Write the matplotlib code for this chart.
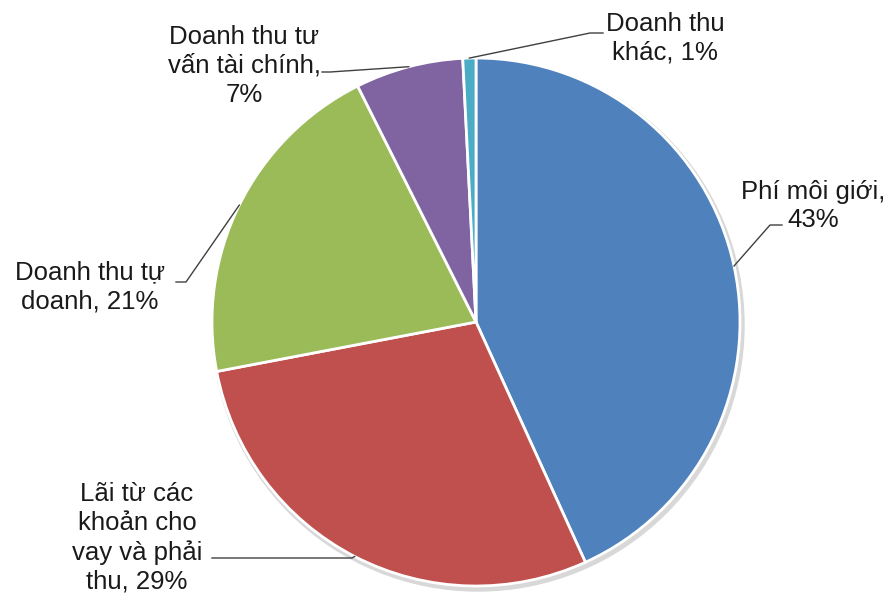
import numpy as np
import matplotlib
matplotlib.use('Agg')
import matplotlib.pyplot as plt

# revenue structure, percent of total
labels = ['Phí môi giới,\n', 'Lãi từ các\nkhoản cho\nvay và phải\nthu, ', 'Doanh thu tự\ndoanh, ',
          'Doanh thu tư\nvấn tài chính,\n', 'Doanh thu\nkhác, ']
values = [43.2, 28.8, 20.6, 6.6, 0.8]
colors = ['#4F81BD', '#C0504D', '#9BBB59', '#8064A2', '#4BACC6']

W, H = 891, 593
fig = plt.figure(figsize=(W / 100, H / 100), dpi=100)
ax = fig.add_axes([0, 0, 1, 1])

cx, cy, r = 476, H - 322, 264

# faint shadow behind the pie
ax.add_patch(plt.Circle((cx + 2, cy - 3), r + 2, color='#d8d8d8', zorder=0))

wedges, _ = ax.pie(values, colors=colors, startangle=90, counterclock=False,
                   center=(cx, cy), radius=r, frame=True,
                   wedgeprops=dict(edgecolor='white', linewidth=2))
ax.set_xlim(0, W)
ax.set_ylim(0, H)
ax.set_aspect('equal')
ax.axis('off')

# text position, elbow of leader line, end of leader line
layout = [
    ((813, H - 206), (770, H - 225), (782, H - 225)),
    ((137, H - 538), (352, H - 558), (212, H - 558)),
    ((90, H - 287), (186, H - 282), (176, H - 282)),
    ((244, H - 66), (330, H - 72), (322, H - 72)),
    ((665, H - 38), (590, H - 33), (603, H - 33)),
]

font = dict(family=['Liberation Sans', 'DejaVu Sans'], size=18.5, color='#1a1a1a')

for w, lab, val, (tpos, elbow, lend) in zip(wedges, labels, values, layout):
    mid = np.deg2rad((w.theta1 + w.theta2) / 2)
    px = cx + r * np.cos(mid)
    py = cy + r * np.sin(mid)
    ax.plot([px, elbow[0], lend[0]], [py, elbow[1], lend[1]],
            color='#404040', linewidth=1, zorder=3)
    ax.text(tpos[0], tpos[1], lab + '%d%%' % round(val), ha='center', va='center',
            linespacing=1.25, **font)

fig.savefig('out.png', dpi=100)
